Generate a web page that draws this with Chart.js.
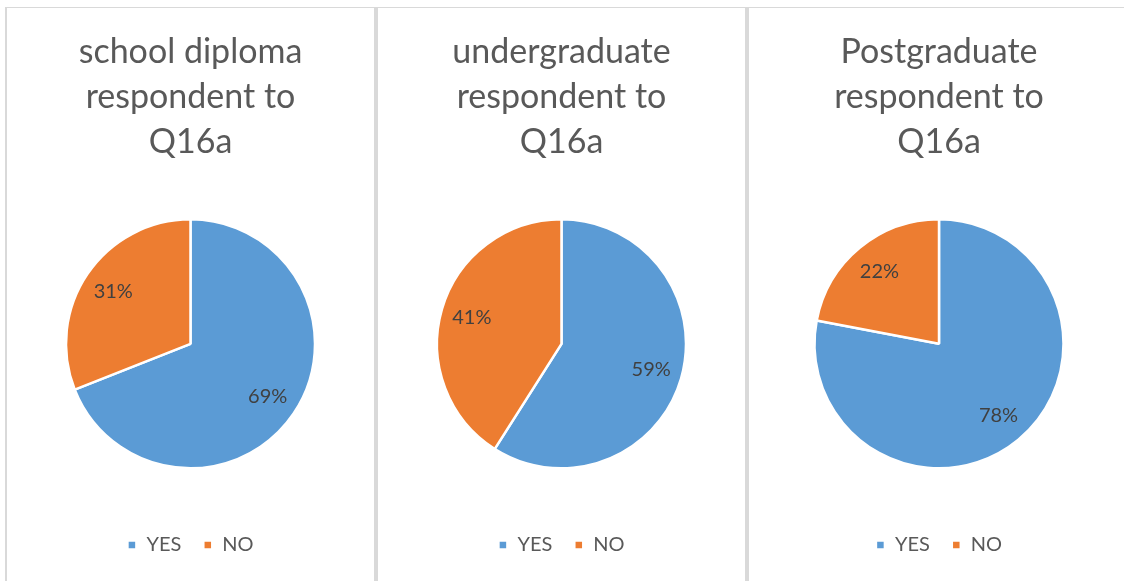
<!DOCTYPE html>
<html lang="en">
<head>
    <meta charset="UTF-8">
    <title>Q16a pies</title>
    <style>
        html, body { margin: 0; padding: 0; background: #fff; overflow: hidden; }
        body { width: 1124px; height: 581px; position: relative; }
        .frame { position: absolute; top: 7px; left: 5px; width: 1130px; height: 580px;
                 border-top: 1px solid #d9d9d9; border-left: 2px solid #d9d9d9; }
        .sep { position: absolute; top: 8px; width: 4px; height: 573px; background: #d9d9d9; }
        .panel { position: absolute; top: 8px; height: 573px; }
    </style>
</head>
<body>
    <script src="https://cdn.jsdelivr.net/npm/chart.js@4/dist/chart.umd.min.js"></script>
    <div class="frame"></div>
    <div class="sep" style="left:374px"></div>
    <div class="sep" style="left:745px"></div>
    <div class="panel" style="left:7px;width:367px"><canvas id="c0"></canvas></div>
    <div class="panel" style="left:378px;width:367px"><canvas id="c1"></canvas></div>
    <div class="panel" style="left:749px;width:380px"><canvas id="c2"></canvas></div>

    <script>
        const titles = [
            ["school diploma", "respondent to", "Q16a"],
            ["undergraduate", "respondent to", "Q16a"],
            ["Postgraduate", "respondent to", "Q16a"]
        ];
        const labels = ["YES", "NO"];
        const yesShare = [69, 59, 78];
        const noShare = [31, 41, 22];
        const colors = ["#5b9bd5", "#ed7d31"];

        const FONT = "Lato, 'Open Sans', sans-serif";

        // percent labels inside each slice, like excel's data labels
        const pctLabels = {
            id: "pctLabels",
            afterDatasetsDraw(chart) {
                const ctx = chart.ctx;
                const ds = chart.data.datasets[0];
                const total = ds.data.reduce((a, b) => a + b, 0);
                chart.getDatasetMeta(0).data.forEach((arc, i) => {
                    const mid = (arc.startAngle + arc.endAngle) / 2;
                    const r = arc.outerRadius * 0.75;
                    const x = arc.x + Math.cos(mid) * r;
                    const y = arc.y + Math.sin(mid) * r;
                    ctx.save();
                    ctx.font = "20px " + FONT;
                    ctx.fillStyle = "#404040";
                    ctx.textAlign = "center";
                    ctx.textBaseline = "middle";
                    ctx.fillText(Math.round(ds.data[i] / total * 100) + "%", x, y);
                    ctx.restore();
                });
            }
        };

        titles.forEach((t, k) => {
            const el = document.getElementById("c" + k);
            new Chart(el, {
                type: "pie",
                data: {
                    labels: labels,
                    datasets: [{
                        data: [yesShare[k], noShare[k]],
                        backgroundColor: colors,
                        borderColor: "#ffffff",
                        borderWidth: 2.5,
                        radius: 124.5
                    }]
                },
                options: {
                    responsive: true,
                    maintainAspectRatio: false,
                    animation: false,
                    layout: { padding: { bottom: 16 } },
                    plugins: {
                        title: {
                            display: true,
                            text: t,
                            color: "#595959",
                            font: { family: FONT, size: 34, weight: "normal", lineHeight: 1.32 },
                            padding: { top: 22, bottom: 10 }
                        },
                        legend: {
                            position: "bottom",
                            labels: {
                                color: "#595959",
                                font: { family: FONT, size: 20 },
                                boxWidth: 9,
                                boxHeight: 9,
                                padding: 22
                            }
                        },
                        tooltip: { enabled: false }
                    }
                },
                plugins: [pctLabels]
            });
        });
    </script>
</body>
</html>
